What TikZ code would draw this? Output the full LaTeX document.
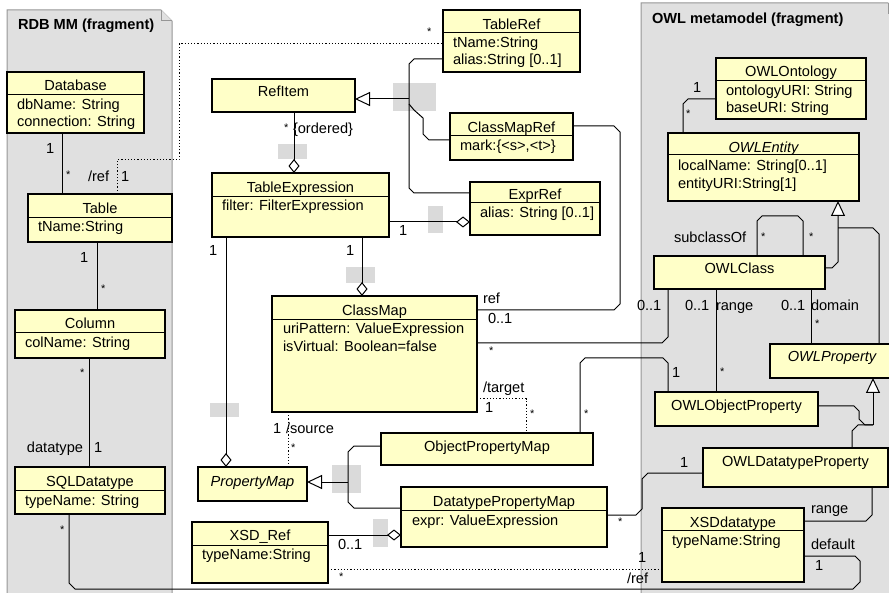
\documentclass[tikz,border=0pt]{standalone}
\usepackage{fontspec}
\setmainfont{Liberation Sans}
\usetikzlibrary{arrows.meta}
\definecolor{boxfill}{RGB}{255,255,200}
\definecolor{pkgfill}{RGB}{224,224,224}
\definecolor{pkgline}{RGB}{150,150,150}
\definecolor{hint}{RGB}{218,218,218}
\newcommand\umlfont{\fontsize{14.6}{17}\selectfont}
\begin{document}
\begin{tikzpicture}[x=1pt,y=-1pt,
  every node/.style={font=\umlfont, inner sep=0pt, outer sep=0pt},
  cls/.style={draw=black, fill=boxfill, line width=1.2pt, anchor=north west},
  clsthick/.style={cls, line width=2.4pt},
  ttl/.style={anchor=base},
  att/.style={anchor=base west},
  lbl/.style={anchor=base west},
  star/.style={anchor=north west, font=\fontsize{11}{11}\selectfont},
  hdr/.style={draw=black, line width=1pt},
  conn/.style={draw=black, line width=1pt},
  derived/.style={conn, dash pattern=on 1.2pt off 2pt},
  gen/.style={conn, -{Triangle[open, length=15pt, width=14pt, fill=white]}},
  agg/.style={conn, -{Diamond[open, length=14pt, width=11pt, fill=white]}},
  pkg/.style={draw=pkgline, fill=pkgfill, line width=1pt},
  hintbox/.style={fill=hint, draw=none},
]
\useasboundingbox (0,0) rectangle (889,593);
\clip (0,0) rectangle (889,593);

% ---------- packages ----------
\filldraw[pkg] (7,10) -- (161,10) -- (172,21) -- (172,600) -- (7,600) -- cycle;
\draw[pkg] (161,10) -- (161,21) -- (172,21);
\node[anchor=base west, font=\umlfont\bfseries] (pkgrdb) at (18,30) {RDB MM (fragment)};

\filldraw[pkg] (641,3) -- (888,3) -- (899,14) -- (899,600) -- (641,600) -- cycle;
\draw[pkg] (888,3) -- (888,14) -- (899,14);
\node[anchor=base west, font=\umlfont\bfseries] (pkgowl) at (652,23.5) {OWL metamodel (fragment)};

% ---------- label placeholders ----------
\fill[hintbox] (393,83) rectangle (436,111);
\fill[hintbox] (278,144) rectangle (307,159);
\fill[hintbox] (428,206) rectangle (443,233);
\fill[hintbox] (346,267) rectangle (375,283);
\fill[hintbox] (210,403) rectangle (239,417);
\fill[hintbox] (332,465) rectangle (361,493);
\fill[hintbox] (373,519) rectangle (388,547);

% ---------- RDB classes ----------
\node[cls, minimum width=137pt, minimum height=61pt] (db) at (7,72) {};
\draw[hdr] (db.west |- 0,95) -- (db.east |- 0,95);
\node[ttl] (dbT) at (db.north |- 0,91) {Database};
\node[att] (dbA1) at (17,110) {dbName: String};
\node[att] (dbA2) at (17,127) {connection: String};

\node[cls, minimum width=144pt, minimum height=48pt] (tbl) at (28,194) {};
\draw[hdr] (tbl.west |- 0,218) -- (tbl.east |- 0,218);
\node[ttl] (tblT) at (tbl.north |- 0,213.5) {Table};
\node[att] (tblA1) at (38,232) {tName:String};

\node[cls, minimum width=150pt, minimum height=48pt] (col) at (15,310) {};
\draw[hdr] (col.west |- 0,333) -- (col.east |- 0,333);
\node[ttl] (colT) at (col.north |- 0,329) {Column};
\node[att] (colA1) at (25,348) {colName: String};

\node[cls, minimum width=150pt, minimum height=47pt] (sql) at (15,467) {};
\draw[hdr] (sql.west |- 0,490) -- (sql.east |- 0,490);
\node[ttl] (sqlT) at (sql.north |- 0,486.5) {SQLDatatype};
\node[att] (sqlA1) at (25,505) {typeName: String};

% ---------- mapping classes ----------
\node[cls, minimum width=143pt, minimum height=33pt] (ri) at (212,79) {};
\node[ttl] (riT) at (ri.north |- 0,97) {RefItem};

\node[cls, minimum width=177pt, minimum height=64pt] (te) at (212,173) {};
\draw[hdr] (te.west |- 0,197) -- (te.east |- 0,197);
\node[ttl] (teT) at (te.north |- 0,192.5) {TableExpression};
\node[att] (teA1) at (222,211) {filter: FilterExpression};

\node[cls, minimum width=137pt, minimum height=62pt] (tref) at (443,10) {};
\draw[hdr] (tref.west |- 0,33) -- (tref.east |- 0,33);
\node[ttl] (trefT) at (tref.north |- 0,30) {TableRef};
\node[att] (trefA1) at (453,48) {tName:String};
\node[att] (trefA2) at (453,65) {alias:String [0..1]};

\node[cls, minimum width=123pt, minimum height=47pt] (cmr) at (450,113) {};
\draw[hdr] (cmr.west |- 0,136) -- (cmr.east |- 0,136);
\node[ttl] (cmrT) at (cmr.north |- 0,133) {ClassMapRef};
\node[att] (cmrA1) at (460,151) {mark:\{<s>,<t>\}};

\node[cls, minimum width=130pt, minimum height=53pt] (eref) at (470,182) {};
\draw[hdr] (eref.west |- 0,203) -- (eref.east |- 0,203);
\node[ttl] (erefT) at (eref.north |- 0,200) {ExprRef};
\node[att] (erefA1) at (480,218) {alias: String [0..1]};

\node[clsthick, minimum width=205pt, minimum height=116pt] (cm) at (272,296) {};
\draw[hdr] (cm.west |- 0,320) -- (cm.east |- 0,320);
\node[ttl] (cmT) at (cm.north |- 0,316) {ClassMap};
\node[att] (cmA1) at (283,334) {uriPattern: ValueExpression};
\node[att] (cmA2) at (283,352) {isVirtual: Boolean=false};

\node[cls, minimum width=109pt, minimum height=34pt] (pm) at (198,467) {};
\node[ttl, font=\umlfont\itshape] (pmT) at (pm.north |- 0,486) {PropertyMap};

\node[clsthick, minimum width=212pt, minimum height=32pt] (opm) at (381,433) {};
\node[ttl] (opmT) at (opm.north |- 0,451) {ObjectPropertyMap};

\node[clsthick, minimum width=206pt, minimum height=60pt] (dpm) at (401,487) {};
\draw[hdr] (dpm.west |- 0,510) -- (dpm.east |- 0,510);
\node[ttl] (dpmT) at (dpm.north |- 0,506) {DatatypePropertyMap};
\node[att] (dpmA1) at (412,525) {expr: ValueExpression};

\node[cls, minimum width=136pt, minimum height=61pt] (xref) at (192,522) {};
\draw[hdr] (xref.west |- 0,545) -- (xref.east |- 0,545);
\node[ttl] (xrefT) at (xref.north |- 0,540.5) {XSD\_Ref};
\node[att] (xrefA1) at (202,559) {typeName:String};

% ---------- OWL classes ----------
\node[cls, minimum width=150pt, minimum height=61pt] (oo) at (716,58) {};
\draw[hdr] (oo.west |- 0,81) -- (oo.east |- 0,81);
\node[ttl] (ooT) at (oo.north |- 0,77) {OWLOntology};
\node[att] (ooA1) at (726,95.5) {ontologyURI: String};
\node[att] (ooA2) at (726,112.5) {baseURI: String};

\node[cls, minimum width=191pt, minimum height=68pt] (oe) at (668,133) {};
\draw[hdr] (oe.west |- 0,155) -- (oe.east |- 0,155);
\node[ttl, font=\umlfont\itshape] (oeT) at (oe.north |- 0,153) {OWLEntity};
\node[att] (oeA1) at (678,170.5) {localName: String[0..1]};
\node[att] (oeA2) at (678,188.5) {entityURI:String[1]};

\node[cls, minimum width=171pt, minimum height=33pt] (oc) at (654,256) {};
\node[ttl] (ocT) at (oc.north |- 0,274) {OWLClass};

\node[cls, minimum width=124pt, minimum height=34pt] (op) at (770,344) {};
\node[ttl, font=\umlfont\itshape] (opT) at (op.north |- 0,362) {OWLProperty};

\node[cls, minimum width=163pt, minimum height=34pt] (oop) at (655,392) {};
\node[ttl] (oopT) at (oop.north |- 0,410) {OWLObjectProperty};

\node[cls, minimum width=185pt, minimum height=39pt] (odp) at (703,448) {};
\node[ttl] (odpT) at (odp.north |- 0,466) {OWLDatatypeProperty};

\node[cls, minimum width=142pt, minimum height=74pt] (xsd) at (662,508) {};
\draw[hdr] (xsd.west |- 0,530) -- (xsd.east |- 0,530);
\node[ttl] (xsdT) at (xsd.north |- 0,527) {XSDdatatype};
\node[att] (xsdA1) at (672,545) {typeName:String};

% ---------- RDB associations ----------
\draw[conn] (db.south -| 62,0) -- (tbl.north -| 62,0);
\draw[conn] (tbl.south -| 97,0) -- (col.north -| 97,0);
\draw[conn] (col.south -| 89,0) -- (sql.north -| 89,0);
\draw[conn] (sql.south -| 69,0) -- (69,583) -- (75,589) -- (853,589) -- (860,582)
  -- (860,561) -- (855,556) -- (xsd.east |- 0,556);

% ---------- derived references (dotted) ----------
\draw[derived] (tbl.north -| 117,0) -- (117,160) -- (179,160) -- (179,44) -- (tref.west |- 0,44);
\draw[derived] (cm.east |- 0,399) -- (526,399) -- (opm.north -| 526,0);
\draw[derived] (cm.south -| 288,0) -- (pm.north -| 288,0);
\draw[derived] (xref.east |- 0,569) -- (xsd.west |- 0,569);

% ---------- RefItem hierarchy ----------
\draw[conn] (tref.west |- 0,59) -- (414,59) -- (409,64) -- (409,188) -- (414,193) -- (eref.west |- 0,193);
\draw[conn] (cmr.west |- 0,140) -- (429,140) -- (423,134) -- (423,118) -- (414,110) -- (409,104);
\draw[gen] (409,99) -- (ri.east |- 0,99);

% ---------- aggregations ----------
\draw[agg] (ri.south -| 294,0) -- (te.north -| 294,0);
\draw[agg] (te.east |- 0,222) -- (eref.west |- 0,222);
\draw[agg] (te.south -| 362,0) -- (cm.north -| 362,0);
\draw[agg] (te.south -| 226,0) -- (pm.north -| 226,0);
\draw[agg] (xref.east |- 0,535) -- (dpm.west |- 0,535);

% ---------- ClassMap links ----------
\draw[conn] (cmr.east |- 0,126) -- (614,126) -- (620,132) -- (620,304) -- (614,310) -- (cm.east |- 0,310);
\draw[conn] (cm.east |- 0,343) -- (662,343) -- (668,337) -- (oc.south -| 668,0);

% ---------- PropertyMap hierarchy ----------
\draw[conn] (opm.west |- 0,446) -- (354,446) -- (348,452) -- (348,502) -- (354,508) -- (dpm.west |- 0,508);
\draw[gen] (348,482) -- (pm.east |- 0,482);
\draw[conn] (opm.north -| 580,0) -- (580,363) -- (585,358) -- (663,358) -- (668,363) -- (oop.north -| 668,0);
\draw[conn] (dpm.east |- 0,515) -- (636,515) -- (642,509) -- (642,479) -- (648,473) -- (odp.west |- 0,473);

% ---------- OWL associations ----------
\draw[conn] (oo.west |- 0,99) -- (688,99) -- (683,104) -- (oe.north -| 683,0);
\draw[conn] (oc.north -| 757,0) -- (757,221) -- (762,216) -- (798,216) -- (803,221) -- (oc.north -| 803,0);
\draw[conn] (oc.south -| 716,0) -- (oop.north -| 716,0);
\draw[conn] (oc.south -| 811,0) -- (op.north -| 811,0);
\draw[gen] (oc.east |- 0,268) -- (832,268) -- (838,262) -- (oe.south -| 838,0);
\draw[conn] (op.north -| 879,0) -- (879,234) -- (873,228) -- (838,228);
\draw[conn] (oop.east |- 0,406) -- (854,406) -- (859,411) -- (859,419) -- (865,425) -- (873,425);
\draw[conn] (odp.north -| 852,0) -- (852,431) -- (858,425) -- (873,425);
\draw[gen] (873,425) -- (op.south -| 873,0);
\draw[conn] (odp.south -| 872,0) -- (872,515) -- (866,521) -- (xsd.east |- 0,521);

% ---------- role names and multiplicities ----------
\node[lbl] (m1) at (46,154) {1};
\node[star] (m2) at (66,171) {*};
\node[lbl] (m3) at (88,182) {/ref};
\node[lbl] (m4) at (121,182) {1};
\node[lbl] (m5) at (80,263) {1};
\node[star] (m6) at (101,285) {*};
\node[star] (m7) at (80,369) {*};
\node[lbl] (m8) at (27,453) {datatype};
\node[lbl] (m9) at (94,453) {1};
\node[star] (m10) at (60,526) {*};
\node[star] (m11) at (427,28) {*};
\node[star] (m12) at (284,124) {*};
\node[lbl] (m13) at (293,134) {\{ordered\}};
\node[lbl] (m14) at (399,236) {1};
\node[lbl] (m15) at (209,256) {1};
\node[lbl] (m16) at (346,256) {1};
\node[lbl] (m17) at (483,304) {ref};
\node[lbl] (m18) at (488,324) {0..1};
\node[star] (m19) at (489,347) {*};
\node[lbl] (m20) at (483,393) {/target};
\node[lbl] (m21) at (485,413) {1};
\node[star] (m22) at (530,410) {*};
\node[star] (m23) at (584,410) {*};
\node[lbl] (m24) at (273,433) {1};
\node[lbl] (m25) at (286,433) {/source};
\node[star] (m26) at (291,444) {*};
\node[lbl] (m27) at (338,549) {0..1};
\node[star] (m28) at (618,518) {*};
\node[star] (m29) at (339,573) {*};
\node[lbl] (m30) at (638,562) {1};
\node[lbl] (m31) at (627,583) {/ref};
\node[lbl] (m32) at (693,93) {1};
\node[star] (m33) at (686,110) {*};
\node[lbl] (m34) at (674,243) {subclassOf};
\node[star] (m35) at (761,233) {*};
\node[star] (m36) at (809,233) {*};
\node[lbl] (m37) at (637,311) {0..1};
\node[lbl] (m38) at (685,311) {0..1};
\node[lbl] (m39) at (716,311) {range};
\node[lbl] (m40) at (781,311) {0..1};
\node[lbl] (m41) at (811,311) {domain};
\node[star] (m42) at (815,320) {*};
\node[lbl] (m43) at (672,378) {1};
\node[star] (m44) at (720,368) {*};
\node[lbl] (m45) at (680,467) {1};
\node[lbl] (m46) at (811,513) {range};
\node[lbl] (m47) at (811,549) {default};
\node[lbl] (m48) at (815,570) {1};
\end{tikzpicture}
\end{document}
